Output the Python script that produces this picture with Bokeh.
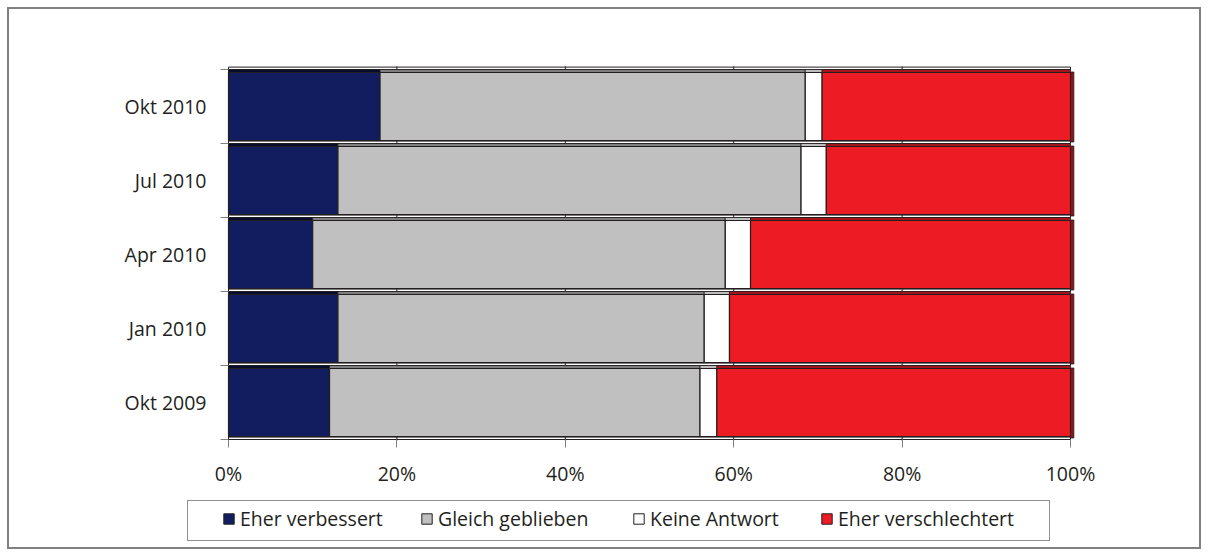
from bokeh.plotting import figure
from bokeh.models import (FixedTicker, PrintfTickFormatter, Legend, LegendItem,
                          ColumnDataSource, Range1d)
from bokeh.embed import file_html
from bokeh.resources import INLINE

categories = ["Okt 2009", "Jan 2010", "Apr 2010", "Jul 2010", "Okt 2010"]
series_names = ["Eher verbessert", "Gleich geblieben", "Keine Antwort", "Eher verschlechtert"]
verbessert = [12, 13, 10, 13, 18]
gleich = [44, 43.5, 49, 55, 50.5]
keine = [2, 3, 3, 3, 2]
verschlechtert = [42, 40.5, 38, 29, 29.5]
x_ticks = [0, 20, 40, 60, 80, 100]

colors = ["#111d5e", "#c0c0c0", "#ffffff", "#ed1c24"]
lip_colors = ["#070c2e", "#7f7f7f", "#bdbdbd", "#a3151b"]
TXT = "#231f20"
FONT = "Open Sans"
FS = "19.5px"

PX = 74.0    # px per category unit
XPX = 8.42   # px per percent
CW, CH = 1194, 542           # canvas size inside the border
AX_LEFT, AX_RIGHT = 219, 133  # px from canvas edge to 0% / from 100% to edge
AX_TOP, AX_BOTTOM = 60, 112   # px from top to upper boundary / lower boundary to bottom

p = figure(width=CW, height=CH, output_backend="svg", toolbar_location=None,
           x_range=Range1d(-AX_LEFT / XPX, 100 + AX_RIGHT / XPX),
           y_range=Range1d(-0.5 - AX_BOTTOM / PX, 4.5 + AX_TOP / PX),
           min_border=0)
p.outline_line_color = None
p.grid.visible = False
p.styles = {"border": "2px solid #808080", "margin-left": "7px", "margin-top": "7px"}

ys = list(range(len(categories)))
series = [verbessert, gleich, keine, verschlechtert]

# floor strips at each band boundary
bounds = [i - 0.5 for i in range(len(categories) + 1)]
p.hbar(y=[b + 1.2 / PX for b in bounds], left=0, right=100, height=2.4 / PX,
       fill_color="#ffffff", line_color=TXT, line_width=1)
# gridline marks on the floor
for xt in x_ticks[1:-1]:
    p.segment(x0=[xt] * len(bounds), x1=[xt] * len(bounds),
              y0=[b - 1 / PX for b in bounds], y1=[b + 3 / PX for b in bounds],
              line_color=TXT, line_width=1)

left = [0.0] * len(categories)
for k, vals in enumerate(series):
    right = [l + v for l, v in zip(left, vals)]
    src = ColumnDataSource(dict(y=ys, left=left, right=right))
    # top face (lip)
    p.hbar(y=[y + 0.5 - 2 / PX for y in ys], left=left, right=right, height=4 / PX,
           fill_color=lip_colors[k], line_color=TXT, line_width=0.8)
    # front face
    p.hbar(y="y", left="left", right="right", height=68 / PX, source=src,
           fill_color=colors[k], line_color=TXT, line_width=1.2)
    left = right

# side face of the last segment
p.hbar(y=[y - 0.5 / PX for y in ys], left=left, right=[l + 0.4 for l in left],
       height=70 / PX, fill_color="#8f1217", line_color=TXT, line_width=0.8)

# axes (drawn at fixed positions inside the frame)
xa = p.xaxis[0]
xa.fixed_location = -0.5
xa.bounds = (0, 100)
xa.ticker = FixedTicker(ticks=x_ticks)
xa.formatter = PrintfTickFormatter(format="%d%%")
xa.major_tick_out = 8
xa.major_tick_in = 0
xa.minor_tick_out = 0
xa.axis_line_color = TXT
xa.major_tick_line_color = "#808080"
xa.major_label_text_font = FONT
xa.major_label_text_font_size = FS
xa.major_label_text_color = TXT
xa.major_label_standoff = 12

ya = p.yaxis[0]
ya.fixed_location = 0
ya.bounds = (-0.5, 4.5)
ya.ticker = FixedTicker(ticks=ys, minor_ticks=bounds)
ya.major_label_overrides = {i: c for i, c in enumerate(categories)}
ya.major_tick_out = 0
ya.major_tick_in = 0
ya.minor_tick_out = 8
ya.minor_tick_in = 0
ya.minor_tick_line_color = "#808080"
ya.axis_line_color = TXT
ya.major_label_text_font = FONT
ya.major_label_text_font_size = FS
ya.major_label_text_color = TXT
ya.major_label_standoff = 14

# legend: framed box plus one entry per series (proxy renderers lie off-canvas)
dummy = p.hbar(y=[-500], left=[-1000], right=[-999], height=0.1,
               fill_alpha=0, line_alpha=0)
box = Legend(items=[LegendItem(label=" ", renderers=[dummy])],
             location=(178, 10), padding=0, margin=0, glyph_width=1,
             glyph_height=1, label_standoff=0, label_width=860, label_height=39,
             border_line_color=TXT, border_line_width=1, background_fill_color="#ffffff",
             label_text_font_size="1px")
p.add_layout(box, "center")

square_x = [213, 411, 623, 811]
for k, name in enumerate(series_names):
    r = p.hbar(y=[-500], left=[-1000], right=[-999], height=0.1, fill_color=colors[k],
               line_color=TXT, line_width=1)
    leg = Legend(items=[LegendItem(label=name, renderers=[r])],
                 location=(square_x[k], 19), orientation="horizontal",
                 padding=0, margin=0, glyph_width=13, glyph_height=13,
                 label_standoff=5, label_height=20, border_line_alpha=0,
                 background_fill_alpha=0, label_text_font=FONT,
                 label_text_font_size=FS, label_text_color=TXT)
    p.add_layout(leg, "center")

open("out.html", "w").write(file_html(p, INLINE))
